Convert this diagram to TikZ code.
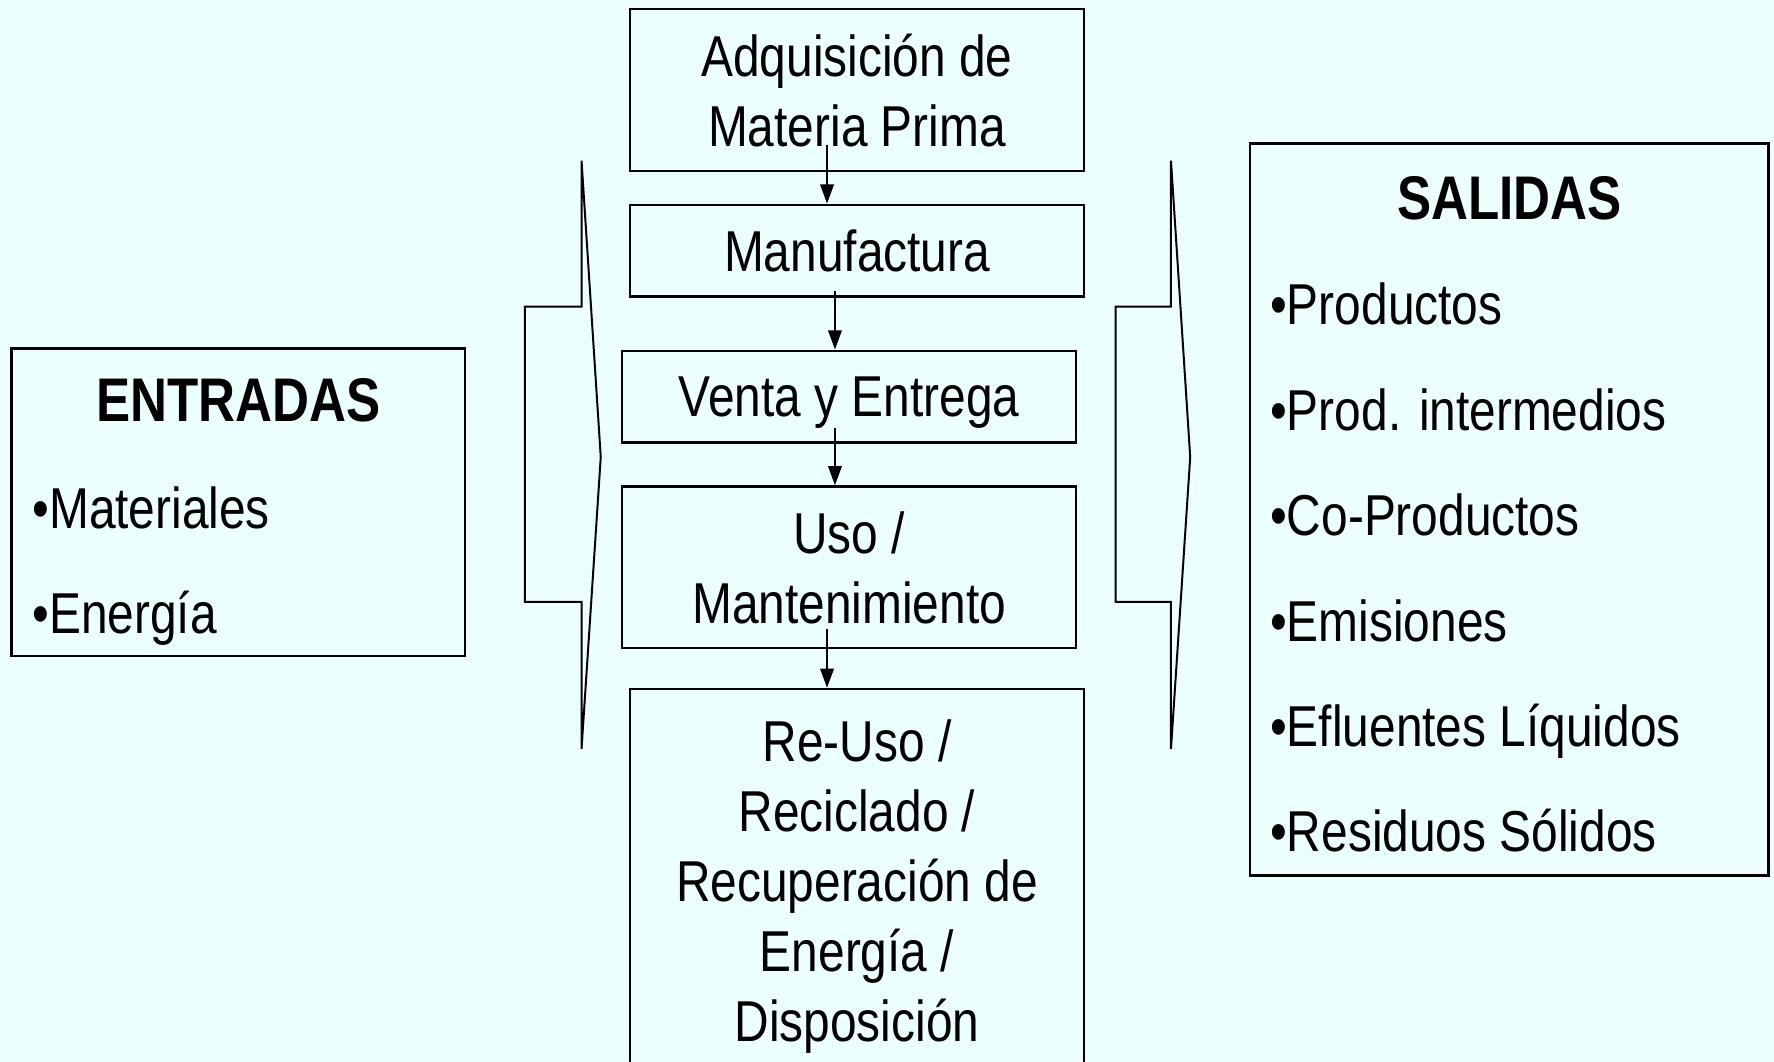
\documentclass[tikz,border=0pt]{standalone}
\usepackage{fontspec}
\setmainfont[FakeStretch=0.83]{Liberation Sans}
\usetikzlibrary{arrows.meta}
\definecolor{fondo}{RGB}{236,255,255}

\begin{document}
\begin{tikzpicture}[x=0.1mm,y=-0.1mm,
		etapa/.style={draw,line width=0.6pt,align=center,inner sep=0pt,minimum width=40.1mm,text depth=0pt,font=\fontsize{14.5}{17.6}\selectfont},
		titulo/.style={anchor=base,inner sep=0pt,font=\fontsize{15.5}{18}\selectfont\bfseries},
		item/.style={anchor=base west,inner sep=0pt,font=\fontsize{14.5}{17.6}\selectfont},
		flujo/.style={-{Triangle[length=1.7mm,width=1.2mm]},line width=0.5pt}]
			\clip (0,0) rectangle (1568,938);
			\fill[fondo] (0,0) rectangle (1568,938);
			% etapas del ciclo de vida
			\node[etapa,minimum height=14.3mm] (adq) at (757.5,79.5) {Adquisición de\\Materia Prima};
			\node[etapa,minimum height=8.1mm] (man) at (757.5,221.5) {Manufactura};
			\node[etapa,minimum height=8.1mm] (venta) at (750.5,350.5) {Venta y Entrega};
			\node[etapa,minimum height=14.3mm] (uso) at (750.5,501.5) {Uso /\\Mantenimiento};
			\node[etapa,minimum height=33.8mm] (reuso) at (757.5,778) {Re-Uso /\\Reciclado /\\Recuperación de\\Energía /\\Disposición};
			\coordinate (a1) at (731,128);
			\coordinate (a2) at (738,257);
			\coordinate (a3) at (738,378);
			\coordinate (a4) at (731,556);
			\draw[flujo] (a1) -- (a1 |- man.north);
			\draw[flujo] (a2) -- (a2 |- venta.north);
			\draw[flujo] (a3) -- (a3 |- uso.north);
			\draw[flujo] (a4) -- (a4 |- reuso.north);
			% entradas
			\node[draw,line width=0.6pt,minimum width=40.1mm,minimum height=27.2mm] (ent) at (210.5,444) {};
			\node[titulo] (entT) at (211,372.5) {ENTRADAS};
			\node[item] (ent1) at (28,467) {•Materiales};
			\node[item] (ent2) at (28,560) {•Energía};
			% salidas
			\node[draw,line width=0.6pt,minimum width=45.8mm,minimum height=64.7mm] (sal) at (1334,450.5) {};
			\node[titulo] (salT) at (1334,194) {SALIDAS};
			\foreach \t [count=\i from 0] in {Productos,Prod. intermedios,Co-Productos,Emisiones,Efluentes Líquidos,Residuos Sólidos}
				\node[item] (sal\i) at (1122,287+93.2*\i) {•\t};
			% flechas de bloque
			\draw[line width=0.5pt] (514,142) -- (514,271) -- (464,271) -- (464,532) -- (514,532) -- (514,662) -- (531,404) -- cycle;
			\draw[line width=0.5pt] (1035,142) -- (1035,271) -- (986,271) -- (986,532) -- (1035,532) -- (1035,662) -- (1052,404) -- cycle;
\end{tikzpicture}
\end{document}
